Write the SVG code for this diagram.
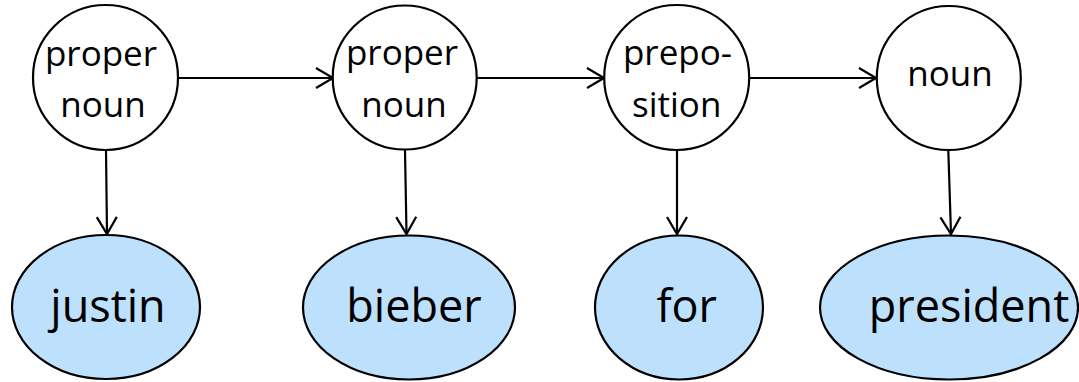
<svg xmlns="http://www.w3.org/2000/svg" width="1079" height="382" viewBox="0 0 1079 382">
<style>
.st{fill:#ffffff;stroke:#000;stroke-width:2.2}
.ob{fill:#bde0fc;stroke:#000;stroke-width:2.2}
.lt{font-family:"Open Sans",sans-serif;font-size:35px;fill:#000;text-anchor:middle}
.wt{font-family:"Open Sans",sans-serif;font-size:45px;fill:#000;text-anchor:middle}
.cn{stroke:#000;stroke-width:2.2;fill:none}
</style>
<defs>
<marker id="ah" markerUnits="userSpaceOnUse" viewBox="-20 -12 22 24" refX="0" refY="0" markerWidth="22" markerHeight="24" orient="auto" overflow="visible">
<path d="M-17,-10 L0,0 L-17,10" fill="none" stroke="#000" stroke-width="2.2"/>
</marker>
</defs>
<g id="connectors">
<line class="cn" x1="178" y1="78" x2="333" y2="78" marker-end="url(#ah)"/>
<line class="cn" x1="477" y1="78" x2="604" y2="78" marker-end="url(#ah)"/>
<line class="cn" x1="749" y1="78" x2="876" y2="78" marker-end="url(#ah)"/>
<line class="cn" x1="106" y1="150" x2="107" y2="234" marker-end="url(#ah)"/>
<line class="cn" x1="405" y1="150" x2="406.5" y2="234" marker-end="url(#ah)"/>
<line class="cn" x1="677" y1="150" x2="677" y2="234" marker-end="url(#ah)"/>
<line class="cn" x1="948.3" y1="150" x2="951" y2="234" marker-end="url(#ah)"/>
</g>
<g id="s1">
<circle class="st" cx="105.5" cy="77.5" r="72.5"/>
<text class="lt" x="101" y="66">proper</text>
<text class="lt" x="103" y="117">noun</text>
</g>
<g id="s2">
<circle class="st" cx="404.7" cy="77.5" r="72"/>
<text class="lt" x="402" y="65">proper</text>
<text class="lt" x="404" y="117">noun</text>
</g>
<g id="s3">
<circle class="st" cx="676.7" cy="77.5" r="72.5"/>
<text class="lt" x="677.5" y="65">prepo-</text>
<text class="lt" x="676.7" y="117">sition</text>
</g>
<g id="s4">
<circle class="st" cx="948.8" cy="78" r="72"/>
<text class="lt" x="950" y="86">noun</text>
</g>
<g id="o1">
<ellipse class="ob" cx="106" cy="307" rx="94" ry="72"/>
<text class="wt" x="108" y="322">justin</text>
</g>
<g id="o2">
<ellipse class="ob" cx="409" cy="307.5" rx="106" ry="72"/>
<text class="wt" x="414" y="322">bieber</text>
</g>
<g id="o3">
<ellipse class="ob" cx="679" cy="307.5" rx="84" ry="72"/>
<text class="wt" x="686.7" y="322">for</text>
</g>
<g id="o4">
<ellipse class="ob" cx="949" cy="307.5" rx="129" ry="72"/>
<text class="wt" x="969" y="322">president</text>
</g>
</svg>
